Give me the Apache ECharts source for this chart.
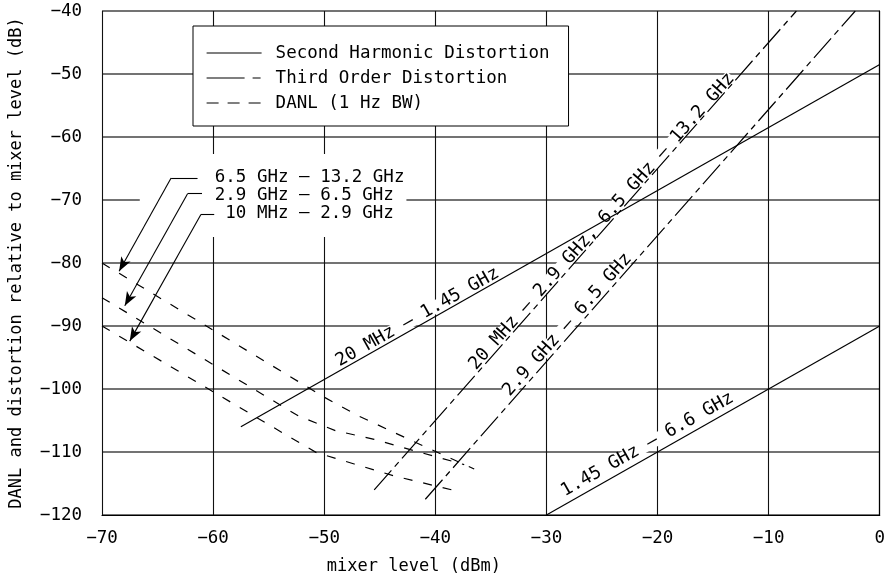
<!DOCTYPE html>
<html>
<head>
<meta charset="utf-8">
<script src="https://cdn.jsdelivr.net/npm/echarts@6/dist/echarts.min.js"></script>
<style>
  html, body { margin: 0; padding: 0; background: #fff; }
  #chart { width: 888px; height: 580px; }
</style>
</head>
<body>
<div id="chart"></div>
<script>
// axis ranges (mixer level dBm / relative level dB)
const xRange = [-70, 0];
const yRange = [-120, -40];

// second harmonic distortion, two bands
const shdLow = [[-57.5, -106], [0, -48.5]];
const shdHigh = [[-30, -120], [0, -90]];
// third order distortion, two bands
const todLow = [[-45.5, -116], [-7.5, -40]];
const todHigh = [[-40.9, -117.5], [-2.2, -40]];
// DANL (1 Hz BW), three bands
const danl13 = [[-70, -80], [-50, -101.3], [-47, -104.2], [-42, -108.3], [-36.5, -112.7]];
const danl65 = [[-70, -85.5], [-52.3, -104.3], [-49, -106.6], [-45.5, -108], [-41.9, -109.8], [-37.4, -112]];
const danl29 = [[-70, -90], [-53.8, -106.9], [-50.7, -110.1], [-47.3, -111.9], [-43.7, -113.8], [-38.3, -116.1]];

// text along the lines: [x, y, angle, text]
const lineLabels = [
    [-41.6, -88.6, 29.4, '20 MHz – 1.45 GHz'],
    [-20.9, -108.8, 29.4, '1.45 GHz – 6.6 GHz'],
    [-25, -73.4, 48.4, '20 MHz – 2.9 GHz, 6.5 GHz – 13.2 GHz'],
    [-28.1, -89.8, 48.4, '2.9 GHz – 6.5 GHz']
];
// DANL band names, leader lines (text end, elbow, arrow tip)
const danlBands = ['6.5 GHz – 13.2 GHz', '2.9 GHz – 6.5 GHz', ' 10 MHz – 2.9 GHz'];
const danlTextAt = [-66.6, -69.3];
const leaderEnd = [[-61.4, -66.5], [-61.0, -69.0], [-59.9, -72.3]];
const leaderElbow = [[-63.78, -66.5], [-62.3, -69.0], [-61.1, -72.3]];
const leaderTip = [[-68.46, -81.3], [-67.95, -86.8], [-67.5, -92.4]];

const FONT = 'DejaVu Sans Mono';
const SHD = 'Second Harmonic Distortion';
const TOD = 'Third Order Distortion';
const DANL = 'DANL (1 Hz BW)';
const todDash = [26, 5, 6, 5];
const danlDash = [9, 11];

function minus(v) {
    return String(v).replace('-', '−');
}

function lineSeries(name, data, dash) {
    return {
        type: 'line',
        name: name,
        data: data,
        symbol: 'none',
        z: 3,
        silent: true,
        itemStyle: {color: '#000'},
        lineStyle: {color: '#000', width: 1.2, type: dash}
    };
}

let myChart = echarts.init(document.getElementById('chart'));

let leaders = [];
for (let i = 0; i < leaderTip.length; i++) {
    leaders.push([{coord: leaderEnd[i], symbol: 'none'}, {coord: leaderElbow[i], symbol: 'none'}]);
    leaders.push([{coord: leaderElbow[i], symbol: 'none'}, {coord: leaderTip[i], symbol: 'arrow'}]);
}

let textPoints = lineLabels.map(l => ({
    value: [l[0], l[1]],
    label: {
        show: true,
        position: 'inside',
        formatter: l[3],
        rotate: l[2],
        fontFamily: FONT,
        fontSize: 18,
        color: '#000',
        lineHeight: 13,
        backgroundColor: '#fff'
    }
}));
textPoints.push({
    value: danlTextAt,
    label: {
        show: true,
        position: 'inside',
        align: 'left',
        verticalAlign: 'middle',
        formatter: danlBands.join('\n'),
        fontFamily: FONT,
        fontSize: 17.5,
        lineHeight: 18,
        color: '#000',
        backgroundColor: '#fff',
        padding: [14, 2, 15, 75]
    }
});

let option = {
    backgroundColor: '#fff',
    animation: false,
    textStyle: {fontFamily: FONT},
    grid: {left: 102, right: 2, top: 11, bottom: 64},
    legend: {
        data: [
            {name: SHD, lineStyle: {type: 'solid'}},
            {name: TOD, lineStyle: {type: [38, 8, 8, 8]}},
            {name: DANL, lineStyle: {type: [12, 9]}}
        ],
        orient: 'vertical',
        left: 193,
        top: 26,
        itemWidth: 55,
        itemHeight: 14,
        itemGap: 7,
        padding: [18, 19, 14, 13],
        backgroundColor: '#fff',
        borderColor: '#000',
        borderWidth: 1,
        selectedMode: false,
        itemStyle: {color: 'rgba(0,0,0,0)', borderColor: 'rgba(0,0,0,0)', borderWidth: 0, opacity: 0},
        lineStyle: {color: '#000', width: 1.2},
        textStyle: {fontFamily: FONT, fontSize: 17.5, lineHeight: 17, color: '#000', padding: [0, 0, 0, 9]}
    },
    xAxis: {
        type: 'value',
        min: xRange[0],
        max: xRange[1],
        interval: 10,
        name: 'mixer level (dBm)',
        nameLocation: 'middle',
        nameGap: 43,
        nameTextStyle: {fontFamily: FONT, fontSize: 17, color: '#000', padding: [0, 154, 0, 0]},
        axisLine: {lineStyle: {color: '#000', width: 1.2}},
        axisTick: {show: false},
        splitLine: {lineStyle: {color: '#111', width: 1.1}},
        axisLabel: {margin: 14, fontFamily: FONT, fontSize: 17.5, color: '#000', formatter: minus}
    },
    yAxis: {
        type: 'value',
        min: yRange[0],
        max: yRange[1],
        interval: 10,
        name: 'DANL and distortion relative to mixer level (dB)',
        nameLocation: 'middle',
        nameGap: 77,
        nameTextStyle: {fontFamily: FONT, fontSize: 17, color: '#000'},
        axisLine: {lineStyle: {color: '#000', width: 1.2}},
        axisTick: {show: false},
        splitLine: {lineStyle: {color: '#444', width: 1.5}},
        axisLabel: {margin: 20, fontFamily: FONT, fontSize: 17.5, color: '#000', formatter: minus}
    },
    series: [
        lineSeries(SHD, shdLow, 'solid'),
        lineSeries(SHD, shdHigh, 'solid'),
        lineSeries(TOD, todLow, todDash),
        lineSeries(TOD, todHigh, todDash),
        lineSeries(DANL, danl13, danlDash),
        lineSeries(DANL, danl65, danlDash),
        lineSeries(DANL, danl29, danlDash),
        {
            type: 'scatter',
            name: 'labels',
            z: 1,
            silent: true,
            symbolSize: 1,
            itemStyle: {color: 'rgba(0,0,0,0)', opacity: 1},
            data: textPoints
        },
        {
            type: 'line',
            name: 'leaders',
            data: [],
            z: 4,
            markLine: {
                silent: true,
                symbolSize: [8, 14],
                label: {show: false},
                lineStyle: {color: '#000', width: 1.1, type: 'solid'},
                data: leaders
            }
        }
    ]
};
myChart.setOption(option);
</script>
</body>
</html>
